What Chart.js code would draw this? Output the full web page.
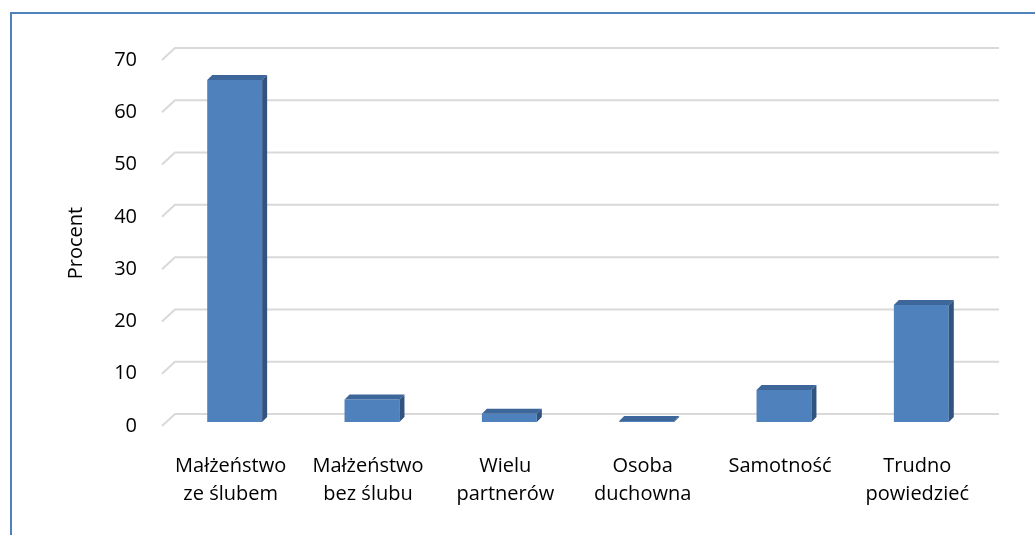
<!DOCTYPE html>
<html lang="pl">
<head>
<meta charset="UTF-8">
<title>Procent</title>
<script src="https://cdn.jsdelivr.net/npm/chart.js@4.4.0/dist/chart.umd.min.js"></script>
<style>
    html, body { margin: 0; padding: 0; background: #fff; }
    #wrap { position: relative; width: 1035px; height: 535px; }
</style>
</head>
<body>
<div id="wrap"><canvas id="chart" width="1035" height="535"></canvas></div>
<script>
// dane z wykresu
const categories = [
    ['Małżeństwo', 'ze ślubem'],
    ['Małżeństwo', 'bez ślubu'],
    ['Wielu', 'partnerów'],
    ['Osoba', 'duchowna'],
    ['Samotność'],
    ['Trudno', 'powiedzieć']
];
const values = [65.4, 4.3, 1.6, 0.2, 6.1, 22.4];
const yTicks = [0, 10, 20, 30, 40, 50, 60, 70];

const FONT = "'Open Sans', sans-serif";
const shift = 4;   // bars sit a bit behind the front plane
const depth = 5;   // 3d bar depth

// frame, 3d gridlines and bar offset
const frame3d = {
    id: 'frame3d',
    beforeDraw(chart) {
        const {ctx} = chart;
        ctx.save();
        ctx.fillStyle = '#fff';
        ctx.fillRect(0, 0, chart.width, chart.height);
        ctx.strokeStyle = '#4f81bd';
        ctx.lineWidth = 2;
        ctx.beginPath();
        ctx.moveTo(11, chart.height);
        ctx.lineTo(11, 13);
        ctx.lineTo(chart.width, 13);
        ctx.stroke();
        ctx.restore();
    },
    beforeDatasetsDraw(chart) {
        const {ctx, chartArea} = chart;
        const y = chart.scales.y;
        ctx.save();
        ctx.strokeStyle = '#d9d9d9';
        ctx.lineWidth = 2;
        yTicks.forEach(v => {
            const py = y.getPixelForValue(v);
            ctx.beginPath();
            ctx.moveTo(chartArea.left, py);
            ctx.lineTo(chartArea.left + 13, py - 12);
            ctx.lineTo(chartArea.right + 13, py - 12);
            ctx.stroke();
        });
        ctx.restore();
        ctx.save();
        ctx.translate(shift, -shift);
    },
    afterDatasetsDraw(chart) {
        const {ctx} = chart;
        const meta = chart.getDatasetMeta(0);
        meta.data.forEach(bar => {
            const x0 = bar.x - bar.width / 2;
            const x1 = bar.x + bar.width / 2;
            const top = bar.y;
            const base = bar.base;
            // top face
            ctx.fillStyle = '#3d679a';
            ctx.beginPath();
            ctx.moveTo(x0, top);
            ctx.lineTo(x1, top);
            ctx.lineTo(x1 + depth, top - depth);
            ctx.lineTo(x0 + depth, top - depth);
            ctx.closePath();
            ctx.fill();
            // side face
            ctx.fillStyle = '#31537f';
            ctx.beginPath();
            ctx.moveTo(x1, top);
            ctx.lineTo(x1 + depth, top - depth);
            ctx.lineTo(x1 + depth, base - depth);
            ctx.lineTo(x1, base);
            ctx.closePath();
            ctx.fill();
        });
        ctx.restore();
    }
};

const config = {
    type: 'bar',
    data: {
        labels: categories,
        datasets: [{
            data: values,
            backgroundColor: '#4f81bd',
            borderWidth: 0,
            barPercentage: 0.4,
            categoryPercentage: 1.0
        }]
    },
    options: {
        responsive: false,
        animation: false,
        layout: { padding: { top: 60, right: 49, left: 0, bottom: 0 } },
        plugins: {
            legend: { display: false },
            tooltip: { enabled: false }
        },
        scales: {
            x: {
                grid: { display: false, drawTicks: false },
                border: { display: false },
                ticks: {
                    color: '#000',
                    padding: 26,
                    maxRotation: 0,
                    autoSkip: false,
                    font: { family: FONT, size: 20, lineHeight: 1.4 }
                },
                afterFit(scale) { scale.height = 109; }
            },
            y: {
                min: 0,
                max: 70,
                grid: { display: false, drawTicks: false },
                border: { display: false },
                ticks: {
                    stepSize: 10,
                    color: '#000',
                    padding: 25,
                    font: { family: FONT, size: 20 }
                },
                title: {
                    display: true,
                    text: 'Procent',
                    color: '#000',
                    padding: { top: 64, bottom: 0 },
                    font: { family: FONT, size: 20 }
                },
                afterFit(scale) { scale.width = 162; }
            }
        }
    },
    plugins: [frame3d]
};

new Chart(document.getElementById('chart'), config);
</script>
</body>
</html>
